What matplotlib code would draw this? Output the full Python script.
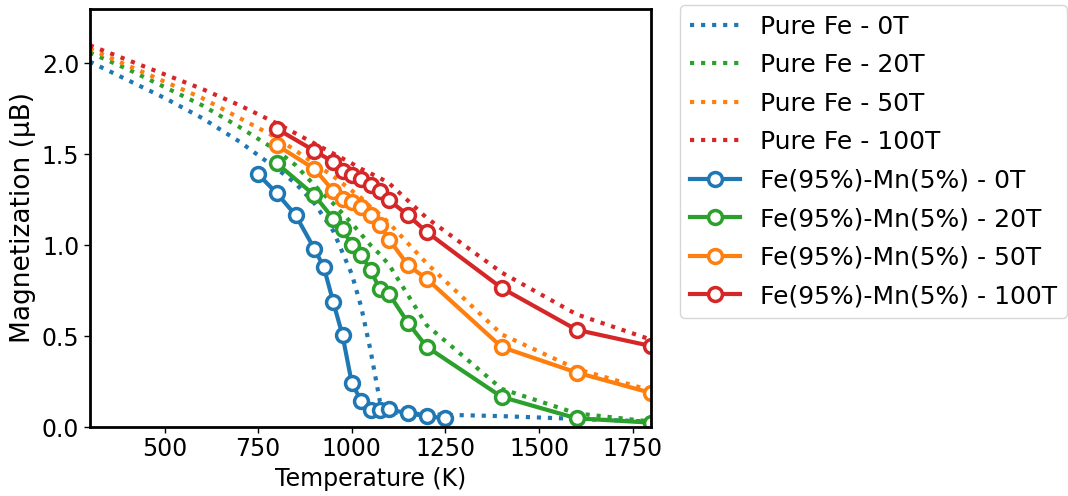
import numpy as np
import matplotlib
matplotlib.use('Agg')
import matplotlib.pyplot as plt

# pure Fe (dotted curves)
t_pure = [300, 400, 500, 600, 700, 800, 850, 900, 950, 1000, 1025, 1050, 1075, 1100, 1200, 1400, 1600, 1800]
fe_0T = [2.01, 1.91, 1.81, 1.70, 1.57, 1.42, 1.34, 1.23, 1.08, 0.84, 0.66, 0.42, 0.14, 0.08, 0.07, 0.06, 0.045, 0.03]
fe_20T = [2.06, 1.97, 1.87, 1.77, 1.65, 1.52, 1.44, 1.33, 1.23, 1.12, 1.06, 1.00, 0.95, 0.89, 0.56, 0.21, 0.075, 0.03]
fe_50T = [2.08, 1.99, 1.90, 1.81, 1.70, 1.59, 1.52, 1.45, 1.38, 1.30, 1.26, 1.21, 1.17, 1.12, 0.90, 0.51, 0.32, 0.20]
fe_100T = [2.10, 2.02, 1.94, 1.86, 1.77, 1.67, 1.615, 1.56, 1.505, 1.45, 1.42, 1.395, 1.37, 1.34, 1.15, 0.85, 0.62, 0.48]

# Fe(95%)-Mn(5%) (solid + open circles)
t_mn_0T = [750, 800, 850, 900, 925, 950, 975, 1000, 1025, 1050, 1075, 1100, 1150, 1200, 1250]
mn_0T = [1.39, 1.285, 1.165, 0.98, 0.88, 0.69, 0.505, 0.24, 0.145, 0.093, 0.093, 0.097, 0.075, 0.06, 0.048]
t_mn = [800, 900, 950, 975, 1000, 1025, 1050, 1075, 1100, 1150, 1200, 1400, 1600, 1800]
mn_20T = [1.45, 1.275, 1.147, 1.09, 1.00, 0.945, 0.863, 0.757, 0.73, 0.573, 0.441, 0.166, 0.048, 0.024]
mn_50T = [1.55, 1.42, 1.30, 1.257, 1.238, 1.21, 1.165, 1.11, 1.03, 0.89, 0.815, 0.44, 0.30, 0.187]
mn_100T = [1.64, 1.52, 1.458, 1.41, 1.385, 1.366, 1.33, 1.30, 1.247, 1.165, 1.073, 0.765, 0.535, 0.445]

plt.rcParams['font.size'] = 16

fig = plt.figure(figsize=(10.68, 4.96), dpi=100)
ax = fig.add_axes([0.084, 0.139, 0.526, 0.843])

lw = 3
ax.plot(t_pure, fe_0T, ':', color='C0', lw=lw, label='Pure Fe - 0T')
ax.plot(t_pure, fe_20T, ':', color='C2', lw=lw, label='Pure Fe - 20T')
ax.plot(t_pure, fe_50T, ':', color='C1', lw=lw, label='Pure Fe - 50T')
ax.plot(t_pure, fe_100T, ':', color='C3', lw=lw, label='Pure Fe - 100T')

mk = dict(marker='o', ms=10, mew=2.5, mfc='white', lw=lw)
ax.plot(t_mn_0T, mn_0T, '-', color='C0', label='Fe(95%)-Mn(5%) - 0T', **mk)
ax.plot(t_mn, mn_20T, '-', color='C2', label='Fe(95%)-Mn(5%) - 20T', **mk)
ax.plot(t_mn, mn_50T, '-', color='C1', label='Fe(95%)-Mn(5%) - 50T', **mk)
ax.plot(t_mn, mn_100T, '-', color='C3', label='Fe(95%)-Mn(5%) - 100T', **mk)

ax.set_xlim(300, 1800)
ax.set_ylim(0, 2.3)
ax.set_xticks([500, 750, 1000, 1250, 1500, 1750])
ax.set_yticks([0.0, 0.5, 1.0, 1.5, 2.0])
ax.set_xlabel('Temperature (K)', fontsize=17)
ax.set_ylabel('Magnetization (\u03bcB)', fontsize=19)
for sp in ax.spines.values():
    sp.set_linewidth(2)
ax.tick_params(width=1, length=4, labelsize=17)

ax.legend(loc='upper left', bbox_to_anchor=(1.05, 1.01), borderaxespad=0,
          fontsize=18, labelspacing=0.58)

plt.savefig('out.png', dpi=100)
